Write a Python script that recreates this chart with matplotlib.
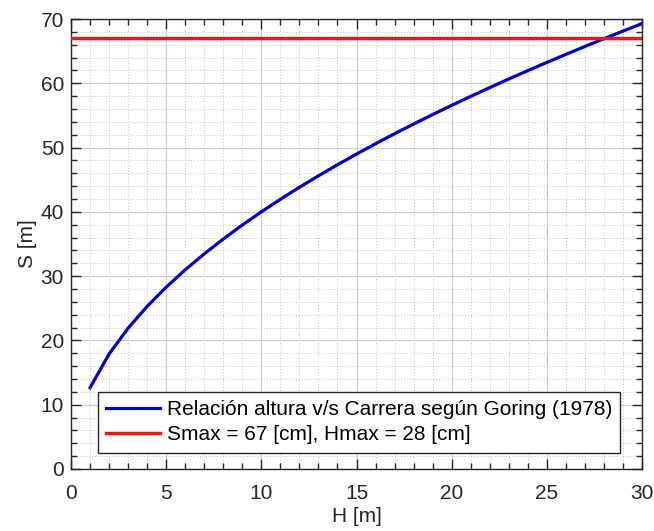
import matplotlib
matplotlib.use("Agg")
import matplotlib.pyplot as plt
from matplotlib.ticker import MultipleLocator

H = list(range(1, 31))
S = [12.65, 17.89, 21.91, 25.30, 28.29, 30.99, 33.47, 35.78, 37.95, 40.00,
     41.96, 43.82, 45.61, 47.33, 48.99, 50.60, 52.16, 53.67, 55.14, 56.57,
     57.97, 59.33, 60.67, 61.97, 63.25, 64.50, 65.73, 66.94, 68.12, 69.29]
Smax = 67
label_curve = "Relación altura v/s Carrera según Goring (1978)"
label_max = "Smax = 67 [cm], Hmax = 28 [cm]"

plt.rcParams['font.family'] = ['Liberation Sans', 'DejaVu Sans']
fig = plt.figure(figsize=(6.54, 5.31), dpi=100)
ax = fig.add_axes([0.1086, 0.1168, 0.8731, 0.8474])

ax.plot(H, S, color='#0000cc', lw=2.3, label=label_curve, zorder=3)
ax.axhline(Smax, color='#e31a1c', lw=2.5, label=label_max, zorder=3)

ax.set_xlim(0, 30)
ax.set_ylim(0, 70)
ax.xaxis.set_major_locator(MultipleLocator(5))
ax.xaxis.set_minor_locator(MultipleLocator(1))
ax.yaxis.set_major_locator(MultipleLocator(10))
ax.yaxis.set_minor_locator(MultipleLocator(2))
ax.grid(which='major', color='#d0d0d0', lw=0.9, ls='-')
ax.grid(which='minor', color='#c0c0c0', lw=0.7, ls=(0, (1, 2)))
ax.set_axisbelow(True)
ax.tick_params(which='both', direction='in', top=True, right=True, colors='#262626',
               labelsize=15, labelcolor='#262626')
ax.tick_params(which='major', length=7, width=1.0)
ax.tick_params(which='minor', length=4, width=1.0)
ax.tick_params(axis='x', which='major', pad=11)
ax.tick_params(axis='y', which='major', pad=5)
for sp in ax.spines.values():
    sp.set_color('#262626')
    sp.set_linewidth(1.0)

ax.set_xlabel('H [m]', fontsize=15, color='#262626', labelpad=3)
ax.set_ylabel('S [m]', fontsize=15, color='#262626', labelpad=3)

leg = ax.legend(loc='lower left', bbox_to_anchor=(0.047, 0.036), fontsize=15,
                frameon=True, fancybox=False, edgecolor='#262626', framealpha=1,
                handlelength=2.6, handletextpad=0.3, borderpad=0.4, labelspacing=0.3,
                borderaxespad=0)
leg.get_frame().set_linewidth(1.0)

fig.savefig('out.png', dpi=100)
